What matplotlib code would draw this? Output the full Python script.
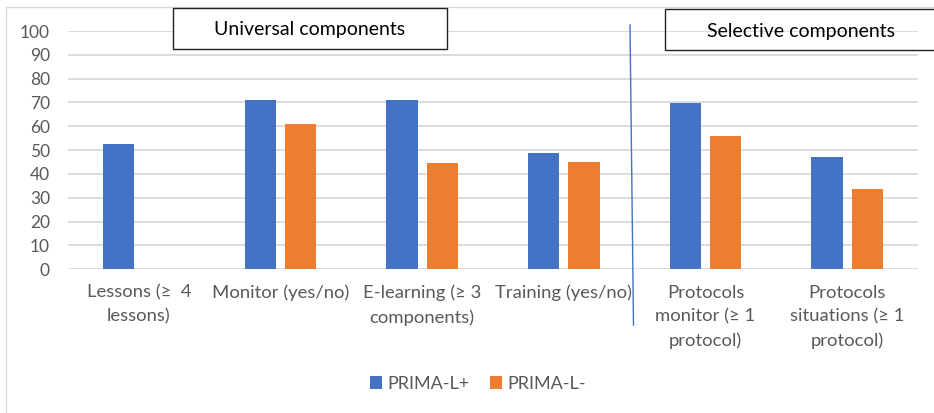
import matplotlib
matplotlib.use("Agg")
import matplotlib.pyplot as plt
from matplotlib.patches import Rectangle
from matplotlib.lines import Line2D
import numpy as np

# chart data
categories = ["Lessons (\u2265  4\nlessons)", "Monitor (yes/no)", "E-learning (\u2265 3\ncomponents)",
              "Training (yes/no)", "Protocols\nmonitor (\u2265 1\nprotocol)",
              "Protocols\nsituations (\u2265 1\nprotocol)"]
prima_plus = [52.5, 71.0, 71.0, 48.7, 69.9, 47.1]
prima_minus = [0, 60.9, 44.4, 45.2, 55.9, 33.5]
yticks = list(range(0, 101, 10))

plt.rcParams['font.family'] = ['Lato', 'DejaVu Sans']

W, H = 934, 413
fig = plt.figure(figsize=(W / 100, H / 100), dpi=100)
fig.patch.set_facecolor('white')


def px(x, y):
    # pixel position (from top-left) to figure fraction
    return x / W, 1 - y / H


# outer chart frame
fig.add_artist(Rectangle(px(6, 420), (W + 10) / W, 413 / H, transform=fig.transFigure,
                         fill=False, edgecolor='#D9D9D9', linewidth=1.0))

left, right = 68, 918
top, bottom = 31, 269.3
ax = fig.add_axes([left / W, 1 - bottom / H, (right - left) / W, (bottom - top) / H])

x = np.arange(len(categories))
width = 0.222
offset = 0.143
ax.bar(x - offset, prima_plus, width, color='#4472C4', label='PRIMA-L+', zorder=3)
ax.bar(x + offset, prima_minus, width, color='#ED7D31', label='PRIMA-L-', zorder=3)

ax.set_xlim(-0.5, len(categories) - 0.5)
ax.set_ylim(0, 100)
ax.set_yticks(yticks)
ax.set_xticks(x)
ax.set_xticklabels(categories, fontsize=13.3, color='#595959', linespacing=1.6)
ax.tick_params(axis='y', labelsize=12.5, colors='#595959', length=0, pad=13)
ax.tick_params(axis='x', length=0, pad=11)
ax.grid(axis='y', color='#D9D9D9', linewidth=1.3, zorder=0)
for s in ax.spines.values():
    s.set_visible(False)

# section boxes
fig.add_artist(Rectangle(px(173, 49), (447 - 173) / W, 41 / H, transform=fig.transFigure,
                         facecolor='white', edgecolor='#222222', linewidth=1.0, zorder=5))
fig.text(*px(310, 29), "Universal components", ha='center', va='center', fontsize=14,
         color='black', zorder=6)
fig.add_artist(Rectangle(px(665, 50), (940 - 665) / W, 41 / H, transform=fig.transFigure,
                         fill=False, edgecolor='#222222', linewidth=1.0, zorder=5))
fig.text(*px(801, 31), "Selective components", ha='center', va='center', fontsize=14,
         color='black', zorder=6)

# separator line
x0, y0 = px(630, 25)
x1, y1 = px(633.5, 325)
fig.add_artist(Line2D([x0, x1], [y0, y1], transform=fig.transFigure, color='#4472C4', linewidth=1.0))

fig.legend(loc='center', bbox_to_anchor=px(478, 384), ncol=2, frameon=False,
           fontsize=13, handlelength=0.7, handleheight=0.7, handletextpad=0.3,
           columnspacing=1.1, labelcolor='#595959')

fig.savefig("out.png", dpi=100)
